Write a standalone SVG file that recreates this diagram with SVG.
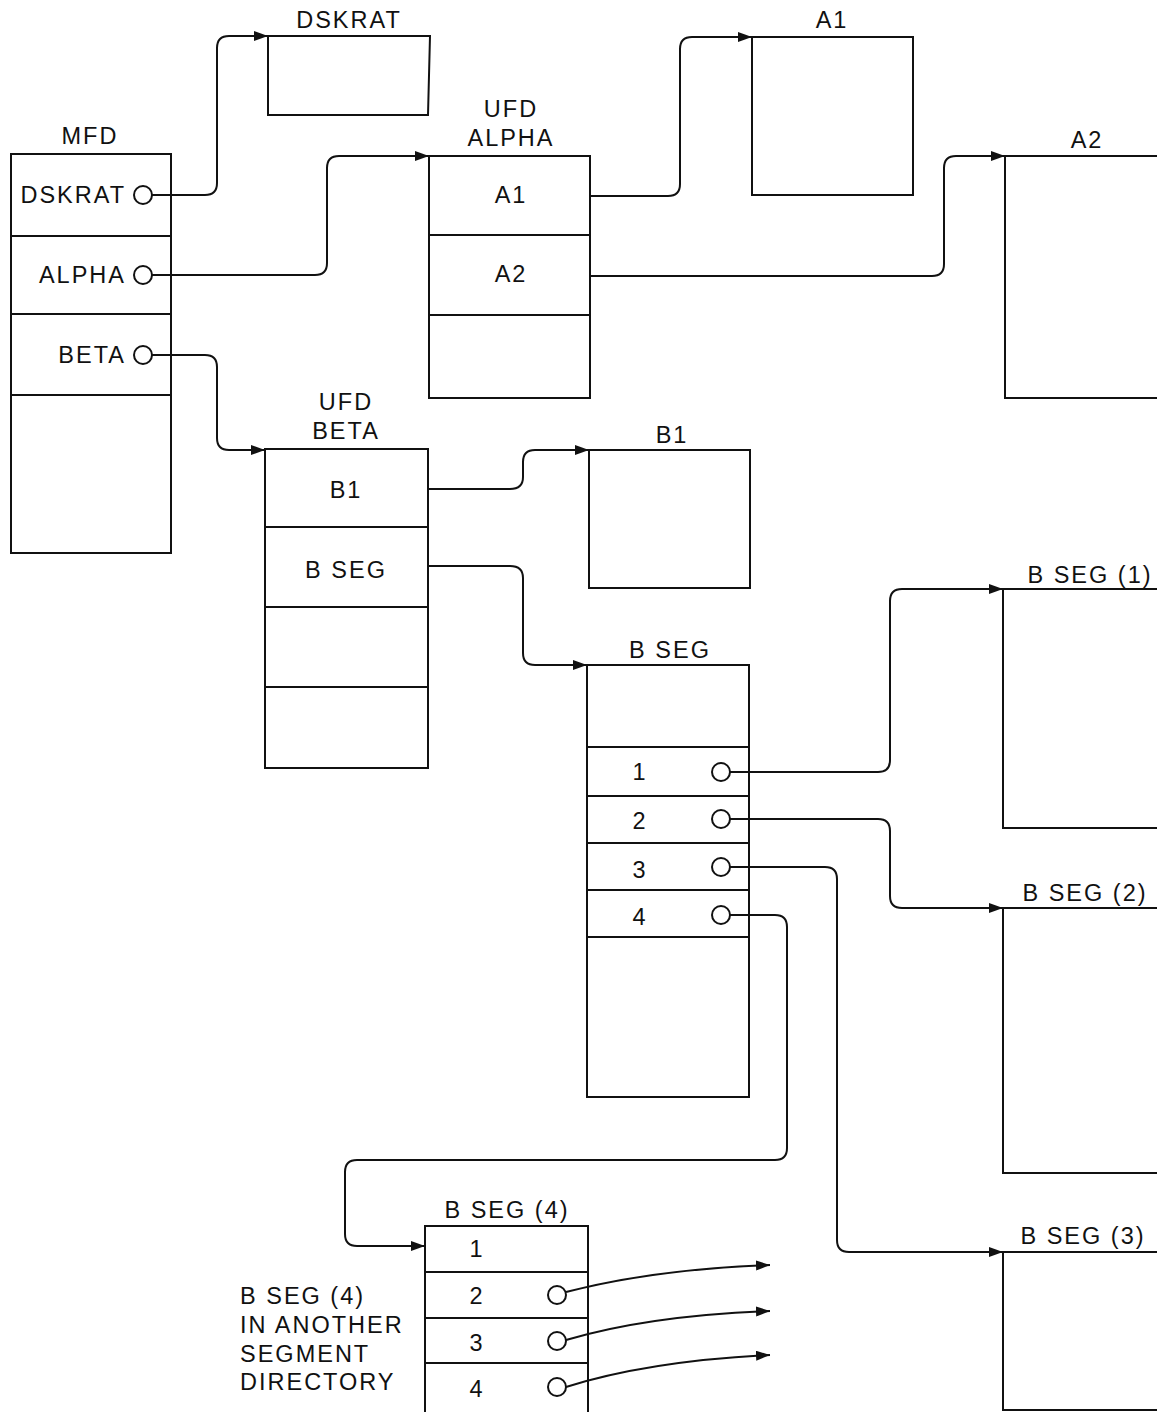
<svg xmlns="http://www.w3.org/2000/svg" width="1157" height="1412" viewBox="0 0 1157 1412">
<style>
.box{fill:none;stroke:#111;stroke-width:2}
.ln{fill:none;stroke:#111;stroke-width:2}
.con{fill:none;stroke:#111;stroke-width:2;marker-end:url(#ah)}
.pt{fill:#fff;stroke:#111;stroke-width:2}
text{font-family:"Liberation Sans",Arial,sans-serif;font-size:23.5px;fill:#111;letter-spacing:2px}
.c{text-anchor:middle}
.e{text-anchor:end}
</style>
<defs>
<marker id="ah" markerUnits="userSpaceOnUse" markerWidth="16" markerHeight="10" refX="14" refY="5" orient="auto">
<path d="M0,0 L14,5 L0,10 Z" fill="#111"/>
</marker>
</defs>
<rect width="1157" height="1412" fill="#fff"/>
<g id="connectors">
<path class="con" d="M152,195 H205 Q217,195 217,183 V48 Q217,36 229,36 H268"/>
<path class="con" d="M152,275 H315 Q327,275 327,263 V168 Q327,156 339,156 H429"/>
<path class="con" d="M152,355 H205 Q217,355 217,367 V438 Q217,450 229,450 H265"/>
<path class="con" d="M590,196 H668 Q680,196 680,184 V49 Q680,37 692,37 H752"/>
<path class="con" d="M590,276 H932 Q944,276 944,264 V168 Q944,156 956,156 H1005"/>
<path class="con" d="M428,489 H510 Q523,489 523,477 V462 Q523,450 535,450 H589"/>
<path class="con" d="M428,566 H510 Q523,566 523,578 V653 Q523,665 535,665 H587"/>
<path class="con" d="M730,772 H878 Q890,772 890,760 V601 Q890,589 902,589 H1003"/>
<path class="con" d="M730,819 H878 Q890,819 890,831 V896 Q890,908 902,908 H1003"/>
<path class="con" d="M730,867 H825 Q837,867 837,879 V1240 Q837,1252 849,1252 H1003"/>
<path class="con" d="M730,915 H775 Q787,915 787,927 V1148 Q787,1160 775,1160 H357 Q345,1160 345,1172 V1234 Q345,1246 357,1246 H425"/>
<path class="con" d="M566,1292 C620,1278 690,1268 770,1265"/>
<path class="con" d="M566,1340 C620,1324 690,1314 770,1311"/>
<path class="con" d="M566,1387 C620,1370 690,1359 770,1355"/>
</g>
<g id="mfd">
<rect class="box" x="11" y="154" width="160" height="399"/>
<path class="ln" d="M11,236 H171 M11,314 H171 M11,395 H171"/>
<text class="c" x="90" y="144">MFD</text>
<text class="e" x="126" y="203">DSKRAT</text>
<text class="e" x="126" y="283">ALPHA</text>
<text class="e" x="126" y="363">BETA</text>
<circle class="pt" cx="143" cy="195" r="9"/>
<circle class="pt" cx="143" cy="275" r="9"/>
<circle class="pt" cx="143" cy="355" r="9"/>
</g>
<g id="dskrat">
<path class="box" d="M268,36 H430 L428,115 H268 Z"/>
<text class="c" x="349" y="28">DSKRAT</text>
</g>
<g id="ufd-alpha">
<rect class="box" x="429" y="156" width="161" height="242"/>
<path class="ln" d="M429,235 H590 M429,315 H590"/>
<text class="c" x="511" y="117">UFD</text>
<text class="c" x="511" y="146">ALPHA</text>
<text class="c" x="511" y="203">A1</text>
<text class="c" x="511" y="282">A2</text>
</g>
<g id="a1">
<rect class="box" x="752" y="37" width="161" height="158"/>
<text class="c" x="832" y="28">A1</text>
</g>
<g id="a2">
<path class="box" d="M1160,156 H1005 V398 H1160"/>
<text class="c" x="1087" y="148">A2</text>
</g>
<g id="ufd-beta">
<rect class="box" x="265" y="449" width="163" height="319"/>
<path class="ln" d="M265,527 H428 M265,607 H428 M265,687 H428"/>
<text class="c" x="346" y="410">UFD</text>
<text class="c" x="346" y="439">BETA</text>
<text class="c" x="346" y="498">B1</text>
<text class="c" x="346" y="578">B SEG</text>
</g>
<g id="b1">
<rect class="box" x="589" y="450" width="161" height="138"/>
<text class="c" x="672" y="443">B1</text>
</g>
<g id="bseg">
<rect class="box" x="587" y="665" width="162" height="432"/>
<path class="ln" d="M587,747 H749 M587,796 H749 M587,843 H749 M587,890 H749 M587,937 H749"/>
<text class="c" x="670" y="658">B SEG</text>
<text class="c" x="640" y="780">1</text>
<text class="c" x="640" y="829">2</text>
<text class="c" x="640" y="878">3</text>
<text class="c" x="640" y="925">4</text>
<circle class="pt" cx="721" cy="772" r="9"/>
<circle class="pt" cx="721" cy="819" r="9"/>
<circle class="pt" cx="721" cy="867" r="9"/>
<circle class="pt" cx="721" cy="915" r="9"/>
</g>
<g id="bseg1">
<path class="box" d="M1160,589 H1003 V828 H1160"/>
<text class="c" x="1090" y="583">B SEG (1)</text>
</g>
<g id="bseg2">
<path class="box" d="M1160,908 H1003 V1173 H1160"/>
<text class="c" x="1085" y="901">B SEG (2)</text>
</g>
<g id="bseg3">
<path class="box" d="M1160,1252 H1003 V1410 H1160"/>
<text class="c" x="1083" y="1244">B SEG (3)</text>
</g>
<g id="bseg4">
<path class="box" d="M425,1415 V1226 H588 V1415"/>
<path class="ln" d="M425,1272 H588 M425,1318 H588 M425,1363 H588"/>
<text class="c" x="507" y="1218">B SEG (4)</text>
<text class="c" x="477" y="1257">1</text>
<text class="c" x="477" y="1304">2</text>
<text class="c" x="477" y="1351">3</text>
<text class="c" x="477" y="1397">4</text>
<circle class="pt" cx="557" cy="1295" r="9"/>
<circle class="pt" cx="557" cy="1341" r="9"/>
<circle class="pt" cx="557" cy="1387" r="9"/>
</g>
<g id="note">
<text x="240" y="1304">B SEG (4)</text>
<text x="240" y="1333">IN ANOTHER</text>
<text x="240" y="1362">SEGMENT</text>
<text x="240" y="1390">DIRECTORY</text>
</g>
</svg>
